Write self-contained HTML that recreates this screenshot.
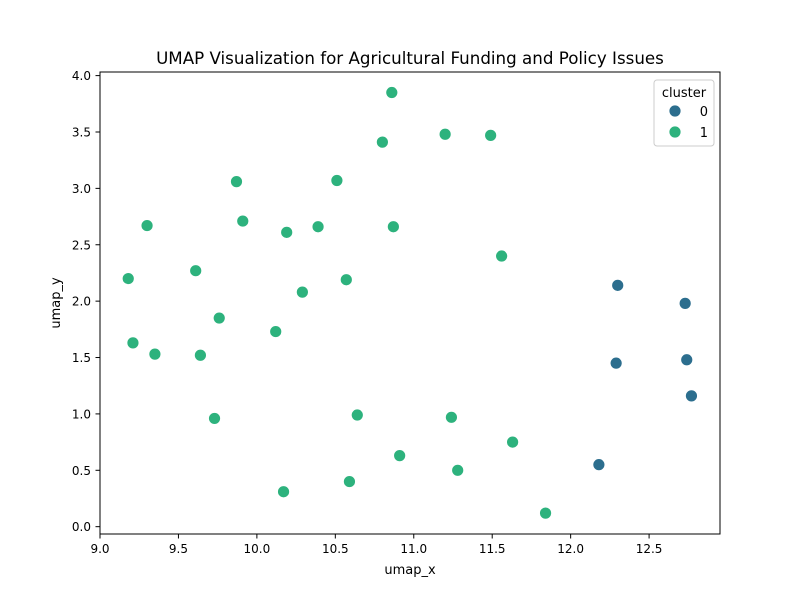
<!DOCTYPE html>
<html><head><meta charset="utf-8"><style>
body{margin:0;background:#fff;font-family:"Liberation Sans","DejaVu Sans",sans-serif}
</style></head><body>
<svg id="chart" width="800" height="600" xmlns="http://www.w3.org/2000/svg" font-family="DejaVu Sans, Liberation Sans, sans-serif">
<rect width="800" height="600" fill="#fff"/>
<text x="410" y="64" text-anchor="middle" font-size="16.7">UMAP Visualization for Agricultural Funding and Policy Issues</text>
<g id="points"></g>
<rect x="100" y="72" width="620" height="462" fill="none" stroke="#000" stroke-width="1"/>
<g id="xticks"></g><g id="yticks"></g>
<text x="410" y="574" text-anchor="middle" font-size="13">umap_x</text>
<text transform="translate(60,303) rotate(-90)" text-anchor="middle" font-size="13">umap_y</text>
<g>
<rect x="654" y="80" width="60" height="66" rx="3" fill="#fff" fill-opacity="0.8" stroke="#ccc"/>
<text x="684" y="97" text-anchor="middle" font-size="13">cluster</text>
<circle cx="675" cy="111" r="6" fill="#2c6e8e" stroke="#fff" stroke-width="0.8"/>
<text x="708" y="116" text-anchor="end" font-size="13">0</text>
<circle cx="675" cy="132" r="6" fill="#2db27d" stroke="#fff" stroke-width="0.8"/>
<text x="708" y="137" text-anchor="end" font-size="13">1</text>
</g>
</svg>
<script>
const xs0=[12.30,12.29,12.73,12.74,12.77,12.18];
const ys0=[2.14,1.45,1.98,1.48,1.16,0.55];
const xs1=[9.18,9.21,9.30,9.35,9.61,9.64,9.73,9.76,9.87,9.91,10.12,10.17,10.19,10.29,10.39,10.51,10.57,10.59,10.64,10.80,10.86,10.87,10.91,11.20,11.24,11.28,11.49,11.56,11.63,11.84];
const ys1=[2.20,1.63,2.67,1.53,2.27,1.52,0.96,1.85,3.06,2.71,1.73,0.31,2.61,2.08,2.66,3.07,2.19,0.40,0.99,3.41,3.85,2.66,0.63,3.48,0.97,0.50,3.47,2.40,0.75,0.12];
const xTicks=[9.0,9.5,10.0,10.5,11.0,11.5,12.0,12.5];
const yTicks=[0.0,0.5,1.0,1.5,2.0,2.5,3.0,3.5,4.0];
const X0=9.0,X1=12.952,Y0=-0.065,Y1=4.032;
const sx=v=>100+(v-X0)/(X1-X0)*620;
const sy=v=>534-(v-Y0)/(Y1-Y0)*462;
const NS="http://www.w3.org/2000/svg";
const pts=document.getElementById('points');
function draw(xs,ys,color,cl){
 xs.forEach((x,i)=>{
  const c=document.createElementNS(NS,'circle');
  c.setAttribute('cx',sx(x));c.setAttribute('cy',sy(ys[i]));c.setAttribute('r',6);
  c.setAttribute('fill',color);c.setAttribute('stroke','#fff');c.setAttribute('stroke-width','0.8');
  
  
  pts.appendChild(c);
 });
}
draw(xs1,ys1,'#2db27d',1);
draw(xs0,ys0,'#2c6e8e',0);
const xg=document.getElementById('xticks');
xTicks.forEach(t=>{
 const x=sx(t);
 const l=document.createElementNS(NS,'line');
 l.setAttribute('x1',x);l.setAttribute('x2',x);l.setAttribute('y1',534);l.setAttribute('y2',538.5);l.setAttribute('stroke','#000');
 
 
 xg.appendChild(l);
 const tx=document.createElementNS(NS,'text');
 tx.setAttribute('x',x);tx.setAttribute('y',553);tx.setAttribute('text-anchor','middle');tx.setAttribute('font-size','12');
 tx.textContent=t.toFixed(1);
 
 
 xg.appendChild(tx);
});
const yg=document.getElementById('yticks');
yTicks.forEach(t=>{
 const y=sy(t);
 const l=document.createElementNS(NS,'line');
 l.setAttribute('x1',95.5);l.setAttribute('x2',100);l.setAttribute('y1',y);l.setAttribute('y2',y);l.setAttribute('stroke','#000');
 
 
 yg.appendChild(l);
 const tx=document.createElementNS(NS,'text');
 tx.setAttribute('x',91);tx.setAttribute('y',y+4.5);tx.setAttribute('text-anchor','end');tx.setAttribute('font-size','12');
 tx.textContent=t.toFixed(1);
 
 
 yg.appendChild(tx);
});
</script>
</body></html>
